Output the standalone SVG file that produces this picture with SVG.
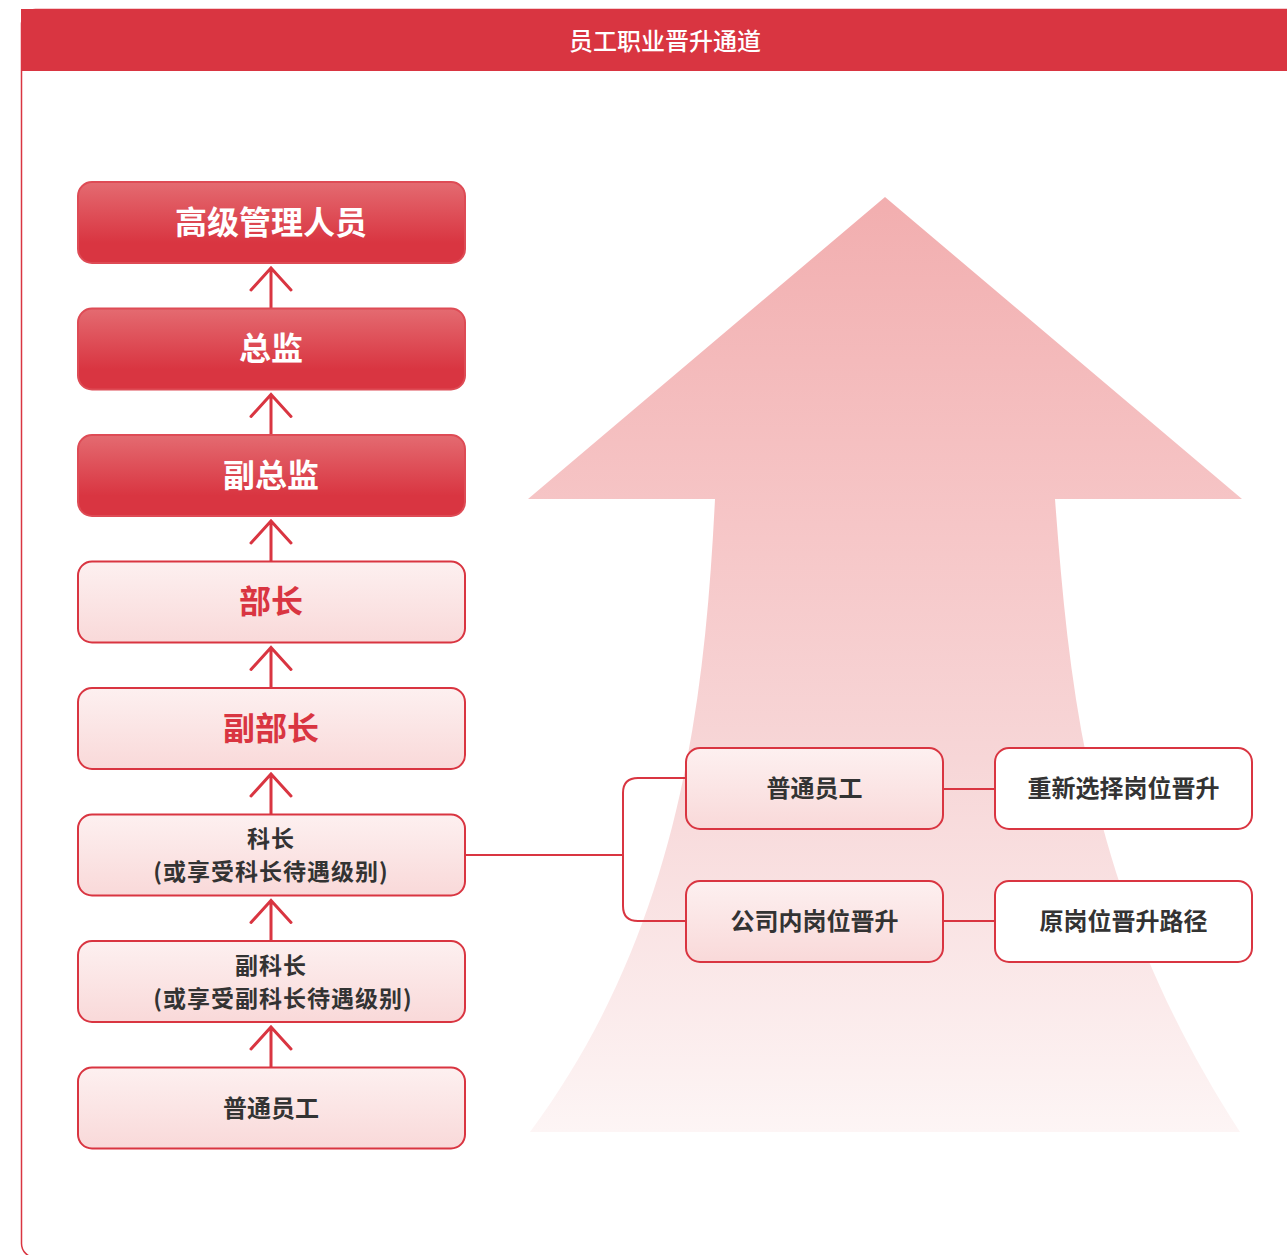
<svg xmlns="http://www.w3.org/2000/svg" width="1287" height="1255" viewBox="0 0 1287 1255">
<defs>
<linearGradient id="gDark" x1="0" y1="0" x2="0" y2="1">
<stop offset="0" stop-color="#E46B71"/><stop offset="0.75" stop-color="#D93541"/><stop offset="1" stop-color="#D93541"/>
</linearGradient>
<linearGradient id="gLight" x1="0" y1="0" x2="0" y2="1">
<stop offset="0" stop-color="#FDF0F0"/><stop offset="1" stop-color="#F9D9D9"/>
</linearGradient>
<linearGradient id="gBig" gradientUnits="userSpaceOnUse" x1="0" y1="197" x2="0" y2="1132">
<stop offset="0" stop-color="#F2AEAF"/><stop offset="0.35" stop-color="#F6C6C7"/><stop offset="0.6" stop-color="#F7D6D7"/><stop offset="1" stop-color="#FDF5F5"/>
</linearGradient>
</defs>
<style>
.box{stroke:#D93541;stroke-width:2}
.dark{fill:url(#gDark);stroke:#DE4B55}
.light{fill:url(#gLight)}
.white{fill:#FFFFFF}
.t{font-family:"Noto Sans CJK SC","Noto Sans",sans-serif;font-weight:bold;text-anchor:middle;dominant-baseline:central}
.tw{fill:#FFFFFF;font-size:32px}
.tr{fill:#D93541;font-size:32px}
.tk{fill:#333333;font-size:24px}
.ts{fill:#333333;font-size:23px;letter-spacing:1px}
.conn{fill:none;stroke:#D93541;stroke-width:2}
.chev{fill:none;stroke:#D93541;stroke-width:3;stroke-linecap:round;stroke-linejoin:miter}
</style>
<rect x="0" y="0" width="1287" height="1255" fill="#FFFFFF"/>
<rect x="21.5" y="9.5" width="1300" height="1248" rx="14" fill="#FFFFFF" stroke="#D93541" stroke-width="1.5"/>
<rect x="21" y="9" width="1266" height="62" fill="#D93541"/>
<text x="665" y="39" font-family="'Noto Sans CJK SC','Noto Sans',sans-serif" font-size="24" font-weight="500" fill="#FFFFFF" text-anchor="middle" dominant-baseline="central">员工职业晋升通道</text>

<path id="bigArrow" d="M885,197 L1242,499 L1055,499 C1070,700 1090,900 1240,1132 L530,1132 C680,930 705,700 715,499 L528,499 Z" fill="url(#gBig)"/>

<g id="connectors">
<path class="chev" d="M251,290 L271,268 L291,290 M271,268 V308"/>
<path class="chev" d="M251,416.5 L271,394.5 L291,416.5 M271,394.5 V434.5"/>
<path class="chev" d="M251,543 L271,521 L291,543 M271,521 V561"/>
<path class="chev" d="M251,669.5 L271,647.5 L291,669.5 M271,647.5 V687.5"/>
<path class="chev" d="M251,796 L271,774 L291,796 M271,774 V814"/>
<path class="chev" d="M251,922.5 L271,900.5 L291,922.5 M271,900.5 V940.5"/>
<path class="chev" d="M251,1049 L271,1027 L291,1049 M271,1027 V1067"/>
<path class="conn" d="M465,855 H623"/>
<path class="conn" d="M686,778 H638 Q623,778 623,793 V906 Q623,921 638,921 H686"/>
<path class="conn" d="M943,789 H995"/>
<path class="conn" d="M943,921 H995"/>
</g>

<g id="n1"><rect class="box dark" x="78" y="182" width="387" height="81" rx="14"/><text class="t tw" x="271" y="219.5">高级管理人员</text></g>
<g id="n2"><rect class="box dark" x="78" y="308.5" width="387" height="81" rx="14"/><text class="t tw" x="271" y="346">总监</text></g>
<g id="n3"><rect class="box dark" x="78" y="435" width="387" height="81" rx="14"/><text class="t tw" x="271" y="472.5">副总监</text></g>
<g id="n4"><rect class="box light" x="78" y="561.5" width="387" height="81" rx="14"/><text class="t tr" x="271" y="599">部长</text></g>
<g id="n5"><rect class="box light" x="78" y="688" width="387" height="81" rx="14"/><text class="t tr" x="271" y="725.5">副部长</text></g>
<g id="n6"><rect class="box light" x="78" y="814.5" width="387" height="81" rx="14"/><text class="t ts" x="271" y="837">科长</text><text class="t ts" x="271" y="870">(或享受科长待遇级别)</text></g>
<g id="n7"><rect class="box light" x="78" y="941" width="387" height="81" rx="14"/><text class="t ts" x="271" y="963.5">副科长</text><text class="t ts" x="283" y="996.5">(或享受副科长待遇级别)</text></g>
<g id="n8"><rect class="box light" x="78" y="1067.5" width="387" height="81" rx="14"/><text class="t tk" x="271" y="1106">普通员工</text></g>

<g id="m1"><rect class="box light" x="686" y="748" width="257" height="81" rx="14"/><text class="t tk" x="814.5" y="786.5">普通员工</text></g>
<g id="m2"><rect class="box light" x="686" y="881" width="257" height="81" rx="14"/><text class="t tk" x="814.5" y="919.5">公司内岗位晋升</text></g>
<g id="r1"><rect class="box white" x="995" y="748" width="257" height="81" rx="14"/><text class="t tk" x="1123.5" y="786.5">重新选择岗位晋升</text></g>
<g id="r2"><rect class="box white" x="995" y="881" width="257" height="81" rx="14"/><text class="t tk" x="1123.5" y="919.5">原岗位晋升路径</text></g>
</svg>
